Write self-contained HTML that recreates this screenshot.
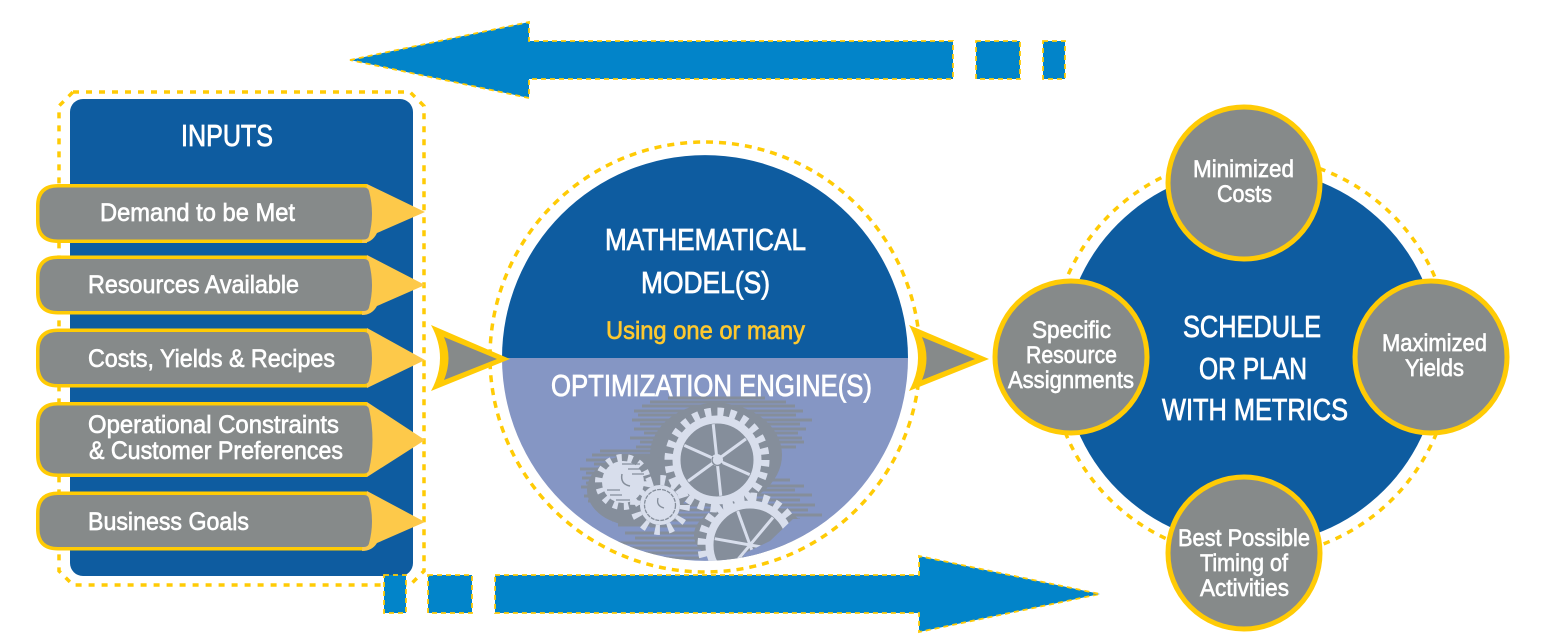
<!DOCTYPE html>
<html><head><meta charset="utf-8"><style>
html,body{margin:0;padding:0;background:#fff;width:1546px;height:644px;overflow:hidden}
svg{display:block}
text{font-family:"Liberation Sans Narrow","Liberation Sans",sans-serif;fill:#fff;font-size:25px;stroke:#fff;stroke-width:.65}
.h{font-size:31px;stroke-width:.8}.s{font-size:24px}
.ar{fill:#0284c9;stroke:#ffcb05;stroke-width:1.8;stroke-dasharray:5 4}
.y{fill:#ffcb05}.gr{fill:#868a8a}
.head{fill:#fdc94a}
.dash{fill:none;stroke:#ffcb05;stroke-width:3.5}
.c{fill:#868a8a;stroke:#ffcb05;stroke-width:5}
.g{fill:none;stroke:#d8deec}
</style></head><body>
<svg width="1546" height="644" viewBox="0 0 1546 644" xmlns="http://www.w3.org/2000/svg">
<defs>
<clipPath id="lower"><path d="M502 358H908A203 203 0 0 1 502 358Z"/></clipPath>
<path id="po" d="M58 0H367V59H58Q36 59 36 37V22Q36 0 58 0Z"/>
<path id="pi" d="M58 3.5H364Q368 3.5 369 7Q375 30 369 52Q368 55.5 364 55.5H58Q39.500 55.500 39.500 37V22Q39.500 3.500 58 3.500Z"/>
</defs>

<!-- top arrow -->
<path class="ar" d="M350 60L529 22V41H953V79H529V98Z"/>
<rect class="ar" x="976" y="41" width="44" height="38"/>
<rect class="ar" x="1043" y="41" width="22" height="38"/>

<!-- inputs panel -->
<path class="dash" stroke-dasharray="6 7" d="M73 92H410L424 106V571L410 585H73L59 571V106Z"/>
<rect x="70" y="99" width="343" height="477" rx="13" fill="#0e5ca0"/>
<text class="h" x="181" y="146" textLength="92" lengthAdjust="spacingAndGlyphs">INPUTS</text>

<use href="#po" class="y" y="184"/>
<path class="head" d="M367 184L425 212L377 233Q372 243 362 243Z"/>
<use href="#pi" class="gr" y="184"/>
<use href="#po" class="y" y="255.500"/>
<path class="head" d="M367 255L425 285L377 306Q372 315 362 315Z"/>
<use href="#pi" class="gr" y="255.500"/>
<use href="#po" class="y" y="328.500"/>
<path class="head" d="M367 328L425 360L367 388Z"/>
<use href="#pi" class="gr" y="328.500"/>
<path class="y" d="M58 402H367V477H58Q36 477 36 455V424Q36 402 58 402Z"/>
<path class="head" d="M367 402L425 440L367 477Z"/>
<path class="gr" d="M58 405.500H364Q368 405.500 369 409Q376 440 369 470Q368 473.500 364 473.500H58Q39.500 473.500 39.500 455V424Q39.500 405.500 58 405.500Z"/>
<use href="#po" class="y" y="491.500"/>
<path class="head" d="M367 491L425 522L377 543Q372 551 362 551Z"/>
<use href="#pi" class="gr" y="491.500"/>

<text x="100" y="221" textLength="195" lengthAdjust="spacingAndGlyphs">Demand to be Met</text>
<text x="88" y="293" textLength="211" lengthAdjust="spacingAndGlyphs">Resources Available</text>
<text x="88" y="367" textLength="247" lengthAdjust="spacingAndGlyphs">Costs, Yields &amp; Recipes</text>
<text x="88" y="433" textLength="251" lengthAdjust="spacingAndGlyphs">Operational Constraints</text>
<text x="89" y="459" textLength="254" lengthAdjust="spacingAndGlyphs">&amp; Customer Preferences</text>
<text x="88" y="530" textLength="161" lengthAdjust="spacingAndGlyphs">Business Goals</text>

<!-- center -->
<circle class="dash" stroke-dasharray="7 6" cx="705" cy="357" r="215"/>
<path d="M502 358A203 203 0 0 1 908 358Z" fill="#0e5ca0"/>
<path d="M502 358H908A203 203 0 0 1 502 358Z" fill="#8596c4"/>
<g clip-path="url(#lower)">
<path stroke="#858e9b" stroke-width="3" fill="none" d="M668 398H765M650 402H786M642 406H795M634 411H803M638 415H796M632 420H812M640 424H800M634 429H806M644 433H798M630 438H802M640 442H804M636 447H796M600 451H660M592 455H660M586 460H650M594 464H640M580 469H640M586 473H640M582 478H640M586 483H640M581 487H640M590 492H640M584 496H640M588 501H640M596 505H640M600 510H640M605 515H640M612 520H650M618 525H660M640 480H790M640 486H804M640 490H795M640 495H812M640 500H800M640 505H815M640 510H808M650 515H822M650 520H800M650 526H700M625 533H700M635 538H700M618 543H700M630 548H700M640 553H700M660 558H700"/>
<ellipse cx="716" cy="455" rx="66" ry="52" fill="#858e9b"/>
<ellipse cx="637" cy="490" rx="50" ry="36" fill="#858e9b"/>
<ellipse cx="750" cy="535" rx="56" ry="32" fill="#858e9b"/>
<!-- large gear -->
<circle class="g" cx="717" cy="460" r="48" stroke-width="9" stroke-dasharray="6.3 6.27"/>
<circle class="g" cx="717" cy="460" r="40.500" stroke-width="8"/>
<path class="g" stroke-width="3" transform="rotate(-6 717 460)" d="M717 424V496M686 442L748 478M686 478L748 442"/>
<circle cx="717" cy="460" r="6" fill="#d8deec"/>
<path d="M713 457A5 5 0 0 0 722 463" fill="none" stroke="#858e9b" stroke-width="1.300"/>
<!-- left gear -->
<circle class="g" cx="623" cy="482" r="24" stroke-width="8" stroke-dasharray="4.7 6"/>
<circle cx="623" cy="482" r="21" fill="#d8deec"/>
<path stroke="#858e9b" stroke-width="1.200" fill="none" d="M622 464H640M628 469H643M632 474H644M607 490H620M610 495H622M616 500H630"/>
<path d="M622 474Q620 484 630 486" fill="none" stroke="#858e9b" stroke-width="1.500"/>
<!-- small gear -->
<circle class="g" cx="660" cy="505" r="25" stroke-width="10" stroke-dasharray="5 8.1"/>
<circle cx="660" cy="505" r="20" fill="#d8deec"/>
<circle cx="660" cy="505" r="15.500" fill="none" stroke="#858e9b" stroke-width="1.300" stroke-dasharray="4 1"/>
<path d="M658 498Q656 506 664 508" fill="none" stroke="#858e9b" stroke-width="1.300"/>
<!-- bottom gear -->
<circle class="g" cx="750" cy="545" r="48" stroke-width="9" stroke-dasharray="6.3 6.27"/>
<circle class="g" cx="750" cy="545" r="40.500" stroke-width="8"/>
<path class="g" stroke-width="3" transform="rotate(-20 750 545)" d="M750 509V581M719 527L781 563M719 563L781 527"/>
<path d="M793 519L770 541L745 553L738 566H835V519Z" fill="#8596c4"/>
</g>
<text class="h" x="605" y="250" textLength="201" lengthAdjust="spacingAndGlyphs">MATHEMATICAL</text>
<text class="h" x="641" y="293" textLength="129" lengthAdjust="spacingAndGlyphs">MODEL(S)</text>
<text x="606" y="339" textLength="199" lengthAdjust="spacingAndGlyphs" style="fill:#fdc82f;stroke:#fdc82f">Using one or many</text>
<text class="h" x="551" y="396" textLength="321" lengthAdjust="spacingAndGlyphs">OPTIMIZATION ENGINE(S)</text>

<!-- small connectors -->
<path class="y" d="M431 325L510 359L431 391Q449 358 431 325Z"/>
<path class="gr" d="M444 337L497 359L444 380Q453 358 444 337Z"/>
<path class="y" d="M909 325L989 359L909 391Q927 358 909 325Z"/>
<path class="gr" d="M922 337L975 359L922 380Q931 358 922 337Z"/>

<!-- right -->
<circle class="dash" stroke-dasharray="6.500 6.500" cx="1251" cy="357" r="200.500"/>
<circle cx="1251" cy="357" r="188.300" fill="#0e5ca0"/>
<circle class="c" cx="1244" cy="183" r="76"/>
<circle class="c" cx="1071" cy="357" r="76"/>
<circle class="c" cx="1431" cy="357" r="76"/>
<circle class="c" cx="1244" cy="553" r="76"/>
<text class="h" x="1183" y="337" textLength="138" lengthAdjust="spacingAndGlyphs">SCHEDULE</text>
<text class="h" x="1199" y="379" textLength="108" lengthAdjust="spacingAndGlyphs">OR PLAN</text>
<text class="h" x="1162" y="420" textLength="186" lengthAdjust="spacingAndGlyphs">WITH METRICS</text>
<text class="s" x="1193" y="177" textLength="101" lengthAdjust="spacingAndGlyphs">Minimized</text>
<text class="s" x="1217" y="202" textLength="55" lengthAdjust="spacingAndGlyphs">Costs</text>
<text class="s" x="1032" y="338" textLength="79" lengthAdjust="spacingAndGlyphs">Specific</text>
<text class="s" x="1026" y="363" textLength="91" lengthAdjust="spacingAndGlyphs">Resource</text>
<text class="s" x="1008" y="388" textLength="126" lengthAdjust="spacingAndGlyphs">Assignments</text>
<text class="s" x="1382" y="351" textLength="105" lengthAdjust="spacingAndGlyphs">Maximized</text>
<text class="s" x="1405" y="376" textLength="59" lengthAdjust="spacingAndGlyphs">Yields</text>
<text class="s" x="1178" y="546" textLength="132" lengthAdjust="spacingAndGlyphs">Best Possible</text>
<text class="s" x="1200" y="571" textLength="88" lengthAdjust="spacingAndGlyphs">Timing of</text>
<text class="s" x="1200" y="596" textLength="89" lengthAdjust="spacingAndGlyphs">Activities</text>

<!-- bottom arrow -->
<rect class="ar" x="384" y="575" width="22" height="38"/>
<rect class="ar" x="428" y="575" width="44" height="38"/>
<path class="ar" d="M495 575H919V556L1100 594L919 632V613H495Z"/>
</svg>
</body></html>
